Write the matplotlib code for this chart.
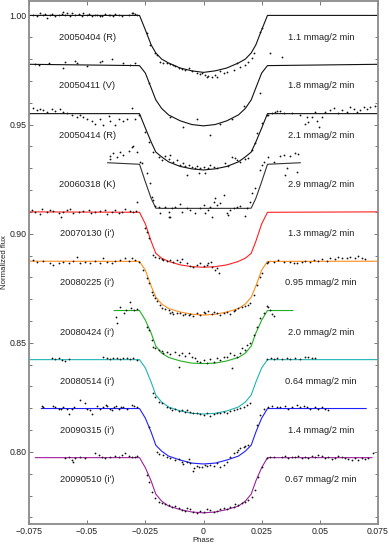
import matplotlib
matplotlib.use('Agg')
import matplotlib.pyplot as plt
from matplotlib.ticker import FixedLocator, MultipleLocator

plt.rcParams['font.family'] = ['Liberation Sans', 'DejaVu Sans']

# ---------------- data ----------------
dates = ['20050404 (R)', '20050411 (V)', '20050414 (R)', '20060318 (K)',
         "20070130 (i')", "20080225 (i')", "20080424 (i')", "20080514 (i')",
         "20090315 (i')", "20090510 (i')"]
noise = ['1.1 mmag/2 min', '1.8 mmag/2 min', '2.1 mmag/2 min', '2.9 mmag/2 min',
         '1.3 mmag/2 min', '0.95 mmag/2 min', '2.0 mmag/2 min', '0.64 mmag/2 min',
         '1.4 mmag/2 min', '0.67 mmag/2 min']
colors = ['#111111', '#111111', '#111111', '#333333', '#ff2020', '#ff8c1a',
          '#22b022', '#20b4b4', '#2020ff', '#a020a0']
baselines = [1.000, 0.9776, 0.9550, 0.9325, 0.9100, 0.8874, 0.8648, 0.8423, 0.8199, 0.7974]
line_start = [-0.075, -0.075, -0.075, -0.0412, -0.075, -0.075, -0.0384, -0.075, -0.0697, -0.0723]
line_end = [0.075, 0.075, 0.075, 0.0416, 0.075, 0.075, 0.0384, 0.075, 0.0699, 0.0724]

model_phase = [-0.0275, -0.025, -0.0225, -0.0205, -0.018, -0.015, -0.01, -0.005, 0.0,
               0.005, 0.01, 0.015, 0.018, 0.0205, 0.0225, 0.025, 0.0275]
model_flux_1 = [1.000, 0.9934, 0.9865, 0.9828, 0.9800, 0.9782, 0.9759, 0.9746, 0.9739,
                0.9746, 0.9759, 0.9782, 0.9800, 0.9828, 0.9865, 0.9934, 1.000]
model_flux_2 = [0.9770, 0.9736, 0.9668, 0.9613, 0.9574, 0.9544, 0.9517, 0.9500, 0.9494,
                0.9500, 0.9517, 0.9544, 0.9574, 0.9613, 0.9668, 0.9736, 0.9770]
model_flux_3 = [0.9550, 0.9484, 0.9420, 0.9374, 0.9352, 0.9329, 0.9308, 0.9297, 0.9292,
                0.9297, 0.9308, 0.9329, 0.9352, 0.9374, 0.9420, 0.9484, 0.9550]
model_flux_4 = [0.9318, 0.9238, 0.9162, 0.9117, 0.9116, 0.9116, 0.9116, 0.9116, 0.9116,
                0.9116, 0.9116, 0.9116, 0.9116, 0.9117, 0.9162, 0.9238, 0.9318]
model_flux_5 = [0.9098, 0.9045, 0.8965, 0.8910, 0.8888, 0.8873, 0.8857, 0.8849, 0.8846,
                0.8849, 0.8857, 0.8873, 0.8888, 0.8910, 0.8965, 0.9045, 0.9098]
model_flux_6 = [0.8873, 0.8833, 0.8760, 0.8709, 0.8678, 0.8657, 0.8641, 0.8631, 0.8627,
                0.8631, 0.8641, 0.8657, 0.8678, 0.8709, 0.8760, 0.8833, 0.8873]
model_flux_7 = [0.8648, 0.8604, 0.8545, 0.8485, 0.8453, 0.8433, 0.8417, 0.8407, 0.8405,
                0.8407, 0.8417, 0.8433, 0.8453, 0.8485, 0.8545, 0.8604, 0.8648]
model_flux_8 = [0.8423, 0.8385, 0.8320, 0.8261, 0.8229, 0.8206, 0.8188, 0.8177, 0.8174,
                0.8177, 0.8188, 0.8206, 0.8229, 0.8261, 0.8320, 0.8385, 0.8423]
model_flux_9 = [0.8199, 0.8155, 0.8091, 0.8031, 0.8004, 0.7981, 0.7963, 0.7949, 0.7945,
                0.7949, 0.7963, 0.7981, 0.8004, 0.8031, 0.8091, 0.8155, 0.8199]
model_flux_10 = [0.7974, 0.7928, 0.7867, 0.7807, 0.7775, 0.7752, 0.7736, 0.7725, 0.7721,
                 0.7725, 0.7736, 0.7752, 0.7775, 0.7807, 0.7867, 0.7928, 0.7974]

dots_phase_1 = [-0.0732, -0.0716, -0.0702, -0.0688, -0.0680, -0.0673, -0.0659, -0.0651, -0.0637,
                -0.0623, -0.0609, -0.0602, -0.0594, -0.0587, -0.0573, -0.0566, -0.0551, -0.0537,
                -0.0523, -0.0516, -0.0501, -0.0494, -0.0480, -0.0465, -0.0458, -0.0444, -0.0437,
                -0.0423, -0.0408, -0.0401, -0.0387, -0.0379, -0.0365, -0.0351, -0.0322, -0.0308,
                -0.0301, -0.0294, -0.0286,
                -0.0243, -0.0229, -0.0208, -0.0200, -0.0186, -0.0172, -0.0157, -0.0143, -0.0129,
                -0.0122, -0.0107, -0.0093, -0.0079, -0.0064, -0.0050, -0.0028, -0.0014, -0.0007,
                0.0007, 0.0015, 0.0021, 0.0036, 0.0050, 0.0058, 0.0072, 0.0086, 0.0101, 0.0129,
                0.0144, 0.0158, 0.0179, 0.0193, 0.0208, 0.0215, 0.0244, 0.0251, 0.0287, 0.0337]
dots_flux_1 = [1.0002, 0.9995, 1.0010, 1.0003, 1.0005, 0.9987, 1.0001, 1.0007, 0.9998,
               1.0002, 1.0006, 1.0017, 1.0004, 1.0013, 0.9999, 1.0013, 1.0003, 1.0007,
               0.9997, 1.0010, 1.0002, 1.0007, 0.9999, 1.0004, 1.0002, 0.9996, 0.9998,
               1.0005, 1.0001, 1.0002, 0.9997, 1.0005, 1.0002, 0.9999, 1.0003, 1.0010,
               1.0012, 1.0007, 1.0002,
               0.9918, 0.9865, 0.9827, 0.9819, 0.9788, 0.9784, 0.9781, 0.9778, 0.9773,
               0.9769, 0.9758, 0.9753, 0.9750, 0.9758, 0.9746, 0.9735, 0.9732, 0.9735,
               0.9727, 0.9717, 0.9723, 0.9720, 0.9727, 0.9717, 0.9747, 0.9735, 0.9742, 0.9750,
               0.9781, 0.9765, 0.9773, 0.9788, 0.9804, 0.9827, 0.9926, 0.9941, 0.9827, 0.9811]

dots_phase_2 = [-0.0723, -0.0705, -0.0666, -0.0602, -0.0594, -0.0551, -0.0544, -0.0501, -0.0444,
                -0.0437, -0.0394, -0.0344, -0.0315, -0.0294, -0.0236, -0.0143, -0.0086, -0.0028,
                0.0029, 0.0072, 0.0122, 0.0172, 0.0244]
dots_flux_2 = [0.9776, 0.9773, 0.9781, 0.9758, 0.9786, 0.9791, 0.9781, 0.9769, 0.9787,
               0.9791, 0.9799, 0.9781, 0.9773, 0.9781, 0.9689, 0.9536, 0.9488, 0.9524,
               0.9452, 0.9503, 0.9524, 0.9585, 0.9646]

dots_phase_3 = [-0.0731, -0.0716, -0.0702, -0.0688, -0.0673, -0.0651, -0.0637, -0.0616, -0.0602,
                -0.0587, -0.0566, -0.0544, -0.0530, -0.0516, -0.0501, -0.0480, -0.0465, -0.0444,
                -0.0430, -0.0408, -0.0401, -0.0379, -0.0365, -0.0344, -0.0329, -0.0308, -0.0294,
                -0.0279,
                -0.0251, -0.0236, -0.0215, -0.0193, -0.0179, -0.0165, -0.0150, -0.0143, -0.0129,
                -0.0114, -0.0100, -0.0086, -0.0079, -0.0064, -0.0050, -0.0036, -0.0028, -0.0014,
                0.0000, 0.0007, 0.0021, 0.0029, 0.0043, 0.0058, 0.0093, 0.0107, 0.0122, 0.0136,
                0.0144, 0.0158, 0.0179, 0.0193, 0.0208, 0.0222, 0.0229, 0.0251, 0.0272, 0.0294,
                0.0315, 0.0330, -0.0071, -0.0021,
                0.0279, 0.0308, 0.0344, 0.0380, 0.0416, 0.0444, 0.0451, 0.0466, 0.0480, 0.0487,
                0.0509, 0.0523, 0.0544, 0.0559, 0.0580, 0.0595, 0.0616, 0.0630, 0.0645, 0.0659,
                0.0673, 0.0688, 0.0702, 0.0716, 0.0738, 0.0437, 0.0495]
dots_flux_3 = [0.9575, 0.9567, 0.9569, 0.9567, 0.9559, 0.9570, 0.9564, 0.9570, 0.9559,
               0.9553, 0.9543, 0.9536, 0.9543, 0.9533, 0.9527, 0.9515, 0.9503, 0.9527,
               0.9500, 0.9537, 0.9516, 0.9496, 0.9527, 0.9515, 0.9527, 0.9575, 0.9527,
               0.9545,
               0.9467, 0.9422, 0.9376, 0.9353, 0.9338, 0.9356, 0.9341, 0.9361, 0.9330,
               0.9338, 0.9315, 0.9323, 0.9310, 0.9315, 0.9307, 0.9300, 0.9310, 0.9300,
               0.9307, 0.9277, 0.9300, 0.9315, 0.9307, 0.9302, 0.9323, 0.9310, 0.9353, 0.9346,
               0.9338, 0.9330, 0.9341, 0.9346, 0.9384, 0.9414, 0.9460, 0.9506, 0.9545, 0.9555,
               0.9560, 0.9560, 0.9269, 0.9277,
               0.9544, 0.9559, 0.9552, 0.9552, 0.9544, 0.9533, 0.9513, 0.9536, 0.9559, 0.9518,
               0.9533, 0.9559, 0.9567, 0.9575, 0.9552, 0.9567, 0.9559, 0.9582, 0.9570, 0.9559,
               0.9567, 0.9579, 0.9570, 0.9579, 0.9585, 0.9503, 0.9490]

dots_phase_4 = [-0.0404, -0.0401, -0.0387, -0.0370, -0.0361, -0.0344, -0.0322, -0.0308, -0.0301,
                -0.0286, -0.0272, -0.0265, -0.0243, -0.0229, -0.0222, -0.0215, -0.0208, -0.0193,
                -0.0186, -0.0165, -0.0150, -0.0143, -0.0136, -0.0122, -0.0100, -0.0093, -0.0071,
                -0.0057, -0.0036, -0.0014, 0.0000, 0.0007, 0.0021, 0.0029, 0.0043, 0.0050, 0.0058,
                0.0072, 0.0086, 0.0101, 0.0115, 0.0129, 0.0144, 0.0158, 0.0179, 0.0187, 0.0201,
                0.0208, 0.0222, 0.0244, 0.0251, 0.0258, 0.0279, 0.0301, 0.0330, 0.0344, 0.0351,
                0.0358, 0.0373, 0.0394, 0.0401, 0.0408, 0.0036, 0.0107, -0.0150]
dots_flux_4 = [0.9356, 0.9341, 0.9368, 0.9350, 0.9376, 0.9361, 0.9380, 0.9399, 0.9403,
               0.9376, 0.9330, 0.9323, 0.9277, 0.9231, 0.9170, 0.9154, 0.9127, 0.9124,
               0.9093, 0.9124, 0.9101, 0.9078, 0.9116, 0.9124, 0.9136, 0.9101, 0.9116,
               0.9109, 0.9093, 0.9116, 0.9132, 0.9093, 0.9109, 0.9124, 0.9147, 0.9162, 0.9132,
               0.9139, 0.9177, 0.9093, 0.9109, 0.9116, 0.9124, 0.9127, 0.9081, 0.9116, 0.9147,
               0.9185, 0.9208, 0.9292, 0.9315, 0.9330, 0.9353, 0.9330, 0.9356, 0.9361, 0.9269,
               0.9300, 0.9356, 0.9368, 0.9284, 0.9365, 0.9075, 0.9086, 0.9078]

dots_phase_5 = [-0.0738, -0.0723, -0.0702, -0.0694, -0.0673, -0.0659, -0.0645, -0.0623, -0.0613,
                -0.0602, -0.0587, -0.0573, -0.0559, -0.0537, -0.0516, -0.0494, -0.0484, -0.0465,
                -0.0444, -0.0422, -0.0413, -0.0394, -0.0379, -0.0365, -0.0351, -0.0337, -0.0315,
                -0.0301, -0.0284, -0.0289,
                -0.0251, -0.0243, -0.0236, -0.0215, -0.0208, -0.0193, -0.0179, -0.0172, -0.0157,
                -0.0143, -0.0129, -0.0114, -0.0100, -0.0093, -0.0071, -0.0057, -0.0043, -0.0028,
                -0.0014, 0.0000, 0.0015, 0.0021, 0.0032, 0.0036, 0.0050, 0.0058, 0.0067]
dots_flux_5 = [0.9109, 0.9101, 0.9090, 0.9112, 0.9101, 0.9109, 0.9105, 0.9096, 0.9075,
               0.9101, 0.9109, 0.9112, 0.9096, 0.9101, 0.9105, 0.9109, 0.9093, 0.9101,
               0.9105, 0.9109, 0.9090, 0.9101, 0.9109, 0.9096, 0.9101, 0.9112, 0.9105,
               0.9101, 0.9147, 0.9105,
               0.9025, 0.9009, 0.8979, 0.8902, 0.8895, 0.8887, 0.8883, 0.8879, 0.8875,
               0.8879, 0.8872, 0.8879, 0.8872, 0.8883, 0.8864, 0.8852, 0.8846, 0.8857,
               0.8864, 0.8852, 0.8857, 0.8867, 0.8872, 0.8846, 0.8834, 0.8841, 0.8819]

dots_phase_6 = [-0.0731, -0.0716, -0.0688, -0.0659, -0.0645, -0.0623, -0.0602, -0.0580, -0.0559,
                -0.0544, -0.0530, -0.0508, -0.0487, -0.0465, -0.0444, -0.0430, -0.0415, -0.0394,
                -0.0379, -0.0358, -0.0337, -0.0322, -0.0308, -0.0294, -0.0279,
                -0.0258, -0.0243, -0.0236, -0.0222, -0.0215, -0.0208, -0.0200, -0.0186, -0.0179,
                -0.0165, -0.0150, -0.0143, -0.0136, -0.0129, -0.0114, -0.0100, -0.0086, -0.0079,
                -0.0064, -0.0057, -0.0043, -0.0028, -0.0014, 0.0000, 0.0007, 0.0021, 0.0036,
                0.0043, 0.0058, 0.0072, 0.0086, 0.0101, 0.0115, 0.0129, 0.0136, 0.0150, 0.0165,
                0.0179, 0.0193, 0.0201, 0.0215, 0.0229, 0.0244, 0.0251, 0.0272, 0.0279, 0.0301,
                0.0322, 0.0344,
                0.0373, 0.0387, 0.0401, 0.0423, 0.0437, 0.0459, 0.0473, 0.0494, 0.0509, 0.0530,
                0.0544, 0.0566, 0.0580, 0.0595, 0.0616, 0.0630, 0.0652, 0.0666, 0.0681, 0.0695]
dots_flux_6 = [0.8879, 0.8872, 0.8876, 0.8864, 0.8857, 0.8867, 0.8872, 0.8864, 0.8876,
               0.8895, 0.8867, 0.8872, 0.8864, 0.8876, 0.8867, 0.8887, 0.8872, 0.8864,
               0.8876, 0.8879, 0.8887, 0.8876, 0.8887, 0.8879, 0.8872,
               0.8834, 0.8796, 0.8773, 0.8734, 0.8719, 0.8704, 0.8693, 0.8673, 0.8658,
               0.8654, 0.8650, 0.8638, 0.8643, 0.8632, 0.8635, 0.8638, 0.8627, 0.8632,
               0.8627, 0.8632, 0.8623, 0.8635, 0.8627, 0.8643, 0.8638, 0.8647, 0.8632,
               0.8643, 0.8638, 0.8627, 0.8635, 0.8643, 0.8632, 0.8647, 0.8650, 0.8658, 0.8665,
               0.8669, 0.8673, 0.8684, 0.8719, 0.8765, 0.8803, 0.8819, 0.8864, 0.8872, 0.8872,
               0.8879, 0.8872,
               0.8872, 0.8864, 0.8867, 0.8872, 0.8876, 0.8872, 0.8879, 0.8876, 0.8883, 0.8876,
               0.8887, 0.8883, 0.8893, 0.8887, 0.8887, 0.8893, 0.8887, 0.8898, 0.8887, 0.8883]

dots_phase_7 = [-0.0375, -0.0370, -0.0358, -0.0341, -0.0332, -0.0318, -0.0312, -0.0298, -0.0284,
                -0.0243, -0.0236, -0.0222, -0.0215, -0.0208, -0.0193, -0.0179, -0.0172, -0.0157,
                -0.0143, -0.0122, -0.0107, -0.0093, -0.0079, -0.0064, -0.0050, -0.0036, -0.0028,
                -0.0014, 0.0000, 0.0015, 0.0029, 0.0043, 0.0058, 0.0072, 0.0086, 0.0101, 0.0115,
                0.0129, 0.0144, 0.0158, 0.0165, 0.0179, 0.0187, 0.0201, 0.0215, 0.0229, 0.0244,
                0.0258, 0.0272, 0.0284, 0.0294, 0.0279, 0.0301, 0.0122, -0.0107]
dots_flux_7 = [0.8617, 0.8592, 0.8666, 0.8635, 0.8650, 0.8688, 0.8658, 0.8650, 0.8653,
               0.8574, 0.8559, 0.8513, 0.8482, 0.8475, 0.8467, 0.8464, 0.8455, 0.8459,
               0.8449, 0.8459, 0.8444, 0.8452, 0.8439, 0.8452, 0.8436, 0.8429, 0.8418,
               0.8413, 0.8421, 0.8409, 0.8424, 0.8413, 0.8429, 0.8421, 0.8436, 0.8433, 0.8452,
               0.8444, 0.8436, 0.8452, 0.8475, 0.8467, 0.8490, 0.8498, 0.8536, 0.8574, 0.8612,
               0.8635, 0.8669, 0.8650, 0.8632, 0.8662, 0.8621, 0.8383, 0.8390]

dots_phase_8 = [-0.0651, -0.0637, -0.0623, -0.0608, -0.0594, -0.0580, -0.0430, -0.0415, -0.0401,
                -0.0387, -0.0372, -0.0358, -0.0344, -0.0329, -0.0315, -0.0301, -0.0286,
                -0.0215, -0.0208, -0.0193, -0.0179, -0.0157, -0.0143, -0.0136, -0.0122, -0.0107,
                -0.0093, -0.0079, -0.0071, -0.0057, -0.0043, -0.0028, -0.0014, 0.0000, 0.0015,
                0.0029, 0.0043, 0.0058, 0.0072, 0.0086, 0.0101, 0.0115, 0.0129, 0.0144, 0.0158,
                0.0172, 0.0187, 0.0201,
                0.0275, 0.0290, 0.0304, 0.0318, 0.0337, 0.0358, 0.0373, 0.0394, 0.0416, 0.0437,
                0.0451, 0.0466, 0.0480]
dots_flux_8 = [0.8429, 0.8424, 0.8429, 0.8421, 0.8418, 0.8424, 0.8436, 0.8429, 0.8424,
               0.8432, 0.8429, 0.8424, 0.8429, 0.8432, 0.8424, 0.8429, 0.8421,
               0.8269, 0.8250, 0.8230, 0.8223, 0.8207, 0.8200, 0.8192, 0.8195, 0.8189,
               0.8192, 0.8184, 0.8192, 0.8184, 0.8177, 0.8180, 0.8174, 0.8169, 0.8177,
               0.8165, 0.8174, 0.8180, 0.8177, 0.8184, 0.8180, 0.8189, 0.8192, 0.8195, 0.8200,
               0.8204, 0.8215, 0.8225,
               0.8424, 0.8429, 0.8424, 0.8429, 0.8426, 0.8432, 0.8424, 0.8429, 0.8424, 0.8434,
               0.8436, 0.8432, 0.8429]

dots_phase_9 = [-0.0694, -0.0688, -0.0645, -0.0637, -0.0623, -0.0613, -0.0602, -0.0580, -0.0587,
                -0.0566, -0.0556, -0.0530, -0.0508, -0.0501, -0.0487, -0.0480, -0.0458, -0.0444,
                -0.0430, -0.0419, -0.0413, -0.0401, -0.0394, -0.0384, -0.0377, -0.0365, -0.0355,
                -0.0344, -0.0329, -0.0308, -0.0298, -0.0286,
                -0.0236, -0.0200, -0.0193, -0.0172, -0.0157, -0.0143, -0.0122, -0.0107, -0.0093,
                -0.0086, -0.0071, -0.0064, -0.0057, -0.0046, -0.0040, -0.0028, -0.0021, -0.0007,
                0.0007, 0.0015, 0.0029, 0.0043, 0.0058, 0.0072, 0.0086, 0.0101, 0.0115, 0.0129,
                0.0144, 0.0150, 0.0158, 0.0172, 0.0179, 0.0193, 0.0229, 0.0244, 0.0258, 0.0279,
                0.0294, 0.0315, 0.0330, 0.0351,
                0.0365, 0.0380, 0.0401, 0.0416, 0.0430, 0.0444, 0.0459, 0.0480, 0.0494, 0.0509,
                0.0523, 0.0537]
dots_flux_9 = [0.8210, 0.8204, 0.8210, 0.8204, 0.8199, 0.8195, 0.8204, 0.8174, 0.8199,
               0.8199, 0.8204, 0.8238, 0.8225, 0.8199, 0.8192, 0.8174, 0.8210, 0.8199,
               0.8204, 0.8214, 0.8210, 0.8199, 0.8192, 0.8204, 0.8210, 0.8199, 0.8207,
               0.8204, 0.8199, 0.8214, 0.8210, 0.8204,
               0.8116, 0.8001, 0.7990, 0.7986, 0.7978, 0.7971, 0.7963, 0.7966, 0.7955,
               0.7945, 0.7955, 0.7966, 0.7948, 0.7914, 0.7925, 0.7935, 0.7929, 0.7932,
               0.7940, 0.7935, 0.7940, 0.7935, 0.7948, 0.7932, 0.7940, 0.7955, 0.7978, 0.7994,
               0.8001, 0.8009, 0.8016, 0.8021, 0.8027, 0.8032, 0.8123, 0.8169, 0.8199, 0.8207,
               0.8211, 0.8207, 0.8204, 0.8210,
               0.8199, 0.8207, 0.8214, 0.8207, 0.8210, 0.8204, 0.8199, 0.8204, 0.8195, 0.8207,
               0.8199, 0.8192]

dots_phase_10 = [-0.0594, -0.0580, -0.0566, -0.0559, -0.0551, -0.0530, -0.0508, -0.0465, -0.0451,
                 -0.0437, -0.0422, -0.0401, -0.0379, -0.0365, -0.0351, -0.0337, -0.0322, -0.0308,
                 -0.0294, -0.0286,
                 -0.0243, -0.0236, -0.0222, -0.0208, -0.0193, -0.0179, -0.0165, -0.0150, -0.0136,
                 -0.0122, -0.0107, -0.0093, -0.0079, -0.0071, -0.0057, -0.0043, -0.0028, -0.0014,
                 0.0000, 0.0015, 0.0029, 0.0043, 0.0058, 0.0072, 0.0086, 0.0101, 0.0115, 0.0129,
                 0.0136, 0.0150, 0.0165, 0.0179, 0.0193, 0.0208, 0.0222, 0.0236, 0.0251, 0.0272,
                 0.0287, 0.0301,
                 0.0337, 0.0351, 0.0365, 0.0380, 0.0394, 0.0408, 0.0423, 0.0437, 0.0451, 0.0466,
                 0.0480, 0.0494, 0.0509, 0.0523, 0.0537, 0.0552, 0.0566, 0.0580, 0.0595, 0.0609,
                 0.0623, 0.0638, 0.0652, 0.0666, 0.0681, 0.0695, 0.0709, 0.0728]
dots_flux_10 = [0.7971, 0.7978, 0.7963, 0.7954, 0.7971, 0.7978, 0.7971, 0.7993, 0.7986,
                0.7978, 0.7971, 0.7978, 0.7982, 0.7976, 0.7986, 0.7993, 0.7982, 0.7978,
                0.7976, 0.7982,
                0.7894, 0.7863, 0.7818, 0.7787, 0.7772, 0.7764, 0.7761, 0.7757, 0.7749,
                0.7752, 0.7742, 0.7734, 0.7731, 0.7742, 0.7737, 0.7726, 0.7722, 0.7731,
                0.7726, 0.7737, 0.7734, 0.7726, 0.7731, 0.7737, 0.7742, 0.7737, 0.7746, 0.7749,
                0.7761, 0.7757, 0.7764, 0.7772, 0.7779, 0.7794, 0.7825, 0.7886, 0.7932, 0.7971,
                0.7978, 0.7976,
                0.7978, 0.7982, 0.7971, 0.7978, 0.7976, 0.7982, 0.7971, 0.7978, 0.7971, 0.7982,
                0.7976, 0.7986, 0.7982, 0.7971, 0.7978, 0.7966, 0.7971, 0.7982, 0.7978, 0.7971,
                0.7966, 0.7963, 0.7971, 0.7963, 0.7971, 0.7966, 0.7971, 0.7996]

x_ticks = [-0.075, -0.05, -0.025, 0.0, 0.025, 0.05, 0.075]
x_tick_labels = ['\u22120.075', '\u22120.05', '\u22120.025', '0', '0.025', '0.05', '0.075']
y_ticks = [0.80, 0.85, 0.90, 0.95, 1.00]
y_tick_labels = ['0.80', '0.85', '0.90', '0.95', '1.00']

model_fluxes = [model_flux_1, model_flux_2, model_flux_3, model_flux_4, model_flux_5,
                model_flux_6, model_flux_7, model_flux_8, model_flux_9, model_flux_10]
dots_phases = [dots_phase_1, dots_phase_2, dots_phase_3, dots_phase_4, dots_phase_5,
               dots_phase_6, dots_phase_7, dots_phase_8, dots_phase_9, dots_phase_10]
dots_fluxes = [dots_flux_1, dots_flux_2, dots_flux_3, dots_flux_4, dots_flux_5,
               dots_flux_6, dots_flux_7, dots_flux_8, dots_flux_9, dots_flux_10]

# ---------------- figure ----------------
W, H = 389, 545
fig = plt.figure(figsize=(W / 100, H / 100), dpi=100)
ax = fig.add_axes([29 / W, 21 / H, 349 / W, 523 / H])

for i in range(len(dates)):
    xs = [line_start[i]] + model_phase + [line_end[i]]
    ys = [baselines[i]] + model_fluxes[i] + [baselines[i]]
    ax.plot(xs, ys, color=colors[i], lw=0.8, zorder=2, solid_joinstyle='round')
    ax.plot(dots_phases[i], dots_fluxes[i], 'o', ms=1.3, mec='none', mfc='#111111', zorder=3)
    ax.text(-0.050, baselines[i] - 0.0099, dates[i], ha='center', va='center',
            fontsize=6.7, color='#222222')
    ax.text(0.0505, baselines[i] - 0.0099, noise[i], ha='center', va='center',
            fontsize=6.7, color='#222222')

ax.set_xlim(-0.075, 0.075)
ax.set_ylim(0.767, 1.0066)
ax.xaxis.set_major_locator(FixedLocator(x_ticks))
ax.set_xticklabels(x_tick_labels)
ax.yaxis.set_major_locator(FixedLocator(y_ticks))
ax.set_yticklabels(y_tick_labels)
ax.yaxis.set_minor_locator(MultipleLocator(0.01))

for sp in ax.spines.values():
    sp.set_color('#8a8a8a')
    sp.set_linewidth(1.3)
ax.tick_params(which='both', direction='in', top=True, right=True, color='#777777',
               width=0.7, labelsize=6.3, labelcolor='#222222', pad=2)
ax.tick_params(which='major', length=3)
ax.tick_params(which='minor', length=2)

ax.set_xlabel('Phase', fontsize=5.6, color='#222222', labelpad=1)
ax.set_ylabel('Normalized flux', fontsize=5.6, color='#222222', labelpad=1)

fig.savefig('out.png', dpi=100)
